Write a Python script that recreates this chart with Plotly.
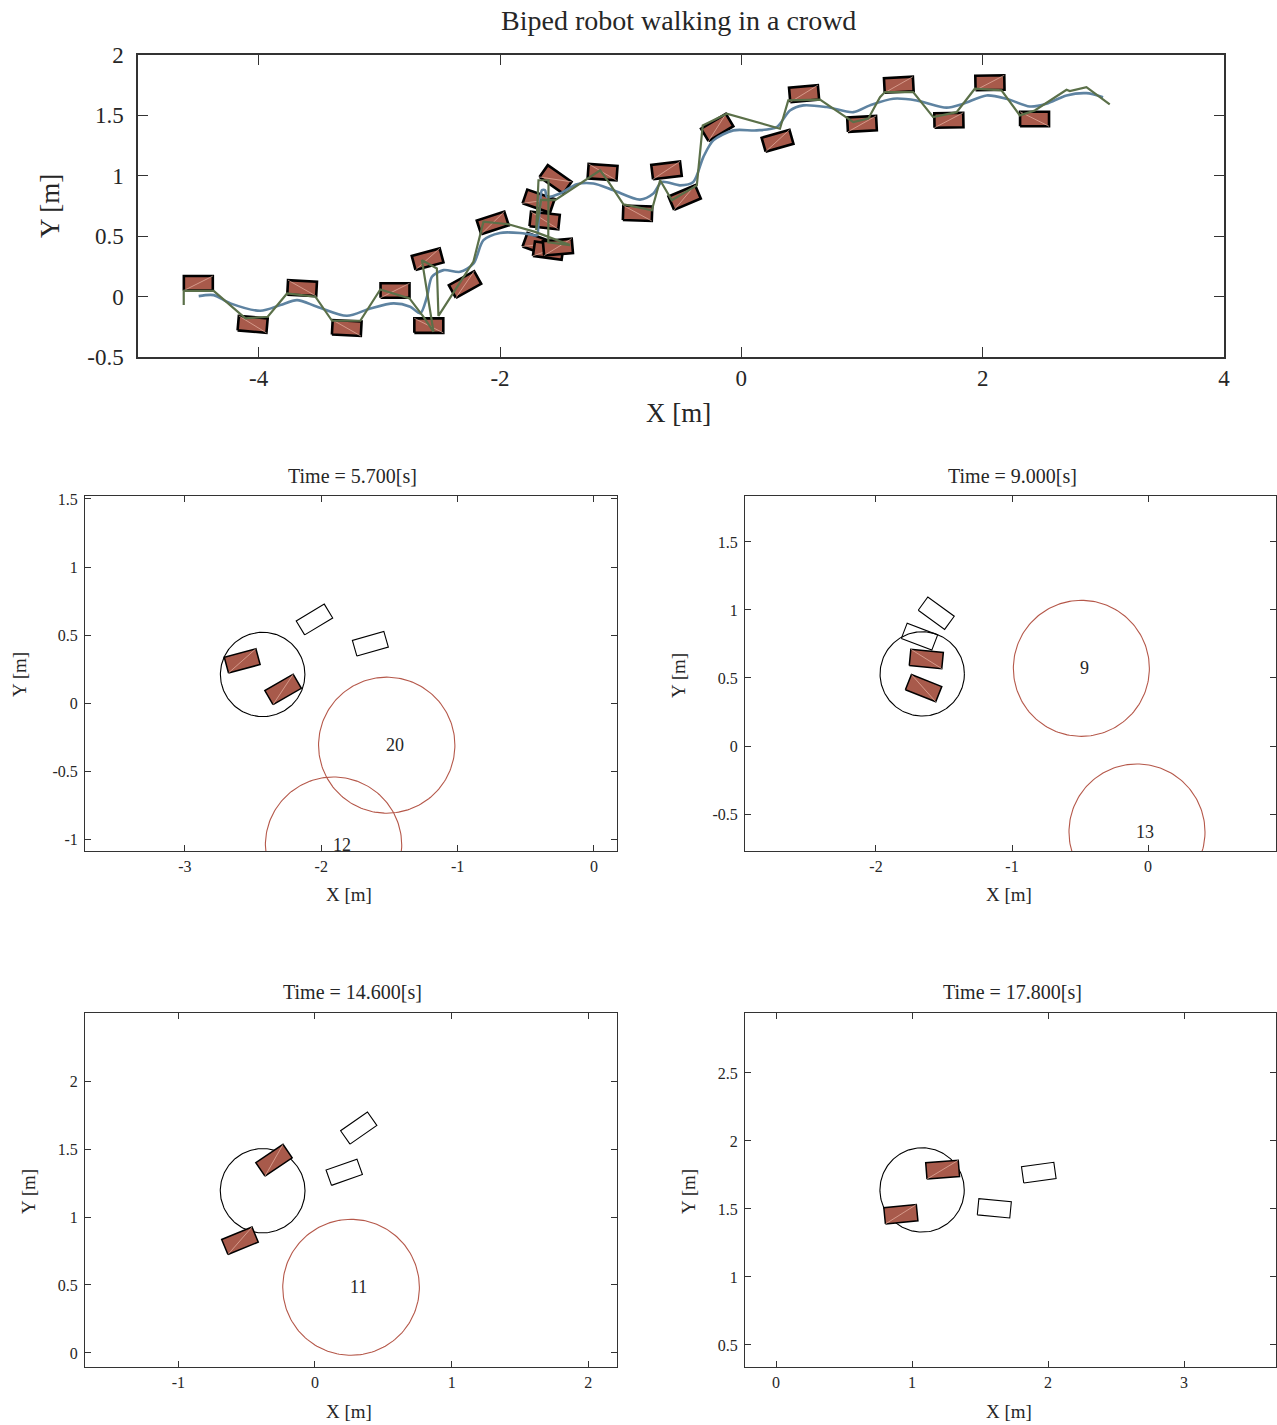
import numpy as np
import plotly.graph_objects as go

W, H = 1277, 1425
FONT = "Liberation Serif"
TXT = "#262626"
FOOT_FILL = "#A85A4B"
FOOT_DIAG = "rgba(240,190,175,0.8)"
AGENT_COL = "#B5584A"
COM_COL = "#5E83A1"
ZMP_COL = "#5B7049"

# footprint size [m]
FOOT_L, FOOT_W = 0.24, 0.12
ROBOT_R = 0.31
AGENT_R = 0.5

# ---------------- overview: footsteps (x, y, heading deg, diagonal flag) ----------------
step_x = [-4.50, -4.05, -3.64, -3.27, -2.87, -2.59, -2.60, -2.29, -2.06,
          -1.68, -1.60, -1.52, -1.63, -1.68, -1.54,
          -1.15, -0.86, -0.62, -0.47, -0.20, 0.30, 0.52, 1.00, 1.305, 1.72, 2.06, 2.43]
step_y = [0.11, -0.23, 0.07, -0.26, 0.05, -0.24, 0.31, 0.10, 0.61,
          0.43, 0.38, 0.41, 0.63, 0.79, 0.97,
          1.03, 0.69, 1.045, 0.82, 1.40, 1.29, 1.68, 1.43, 1.754, 1.46, 1.77, 1.47]
step_theta = [0, -5, -3, -3, 0, 0, 15, 29, 18,
              -20, -8, 5, -6, -19, -35,
              -4, -2, 7, 23, 31, 16, 5, 3, 3, 1, 1, 0]
step_diag = [1, -1, -1, -1, 1, -1, 1, 1, 1,
             1, 1, 1, -1, 1, 1,
             -1, -1, 1, 1, 1, 1, 1, 1, 1, 1, 1, -1]

# centre-of-mass trajectory
com_x = [-4.497, -4.373, -4.234, -3.986, -3.820, -3.682, -3.516, -3.268, -3.075, -2.882,
         -2.744, -2.661, -2.605, -2.564, -2.468, -2.330, -2.219, -2.137, -2.0, -1.835,
         -1.750, -1.694, -1.681, -1.667, -1.653, -1.626, -1.612, -1.502, -1.363, -1.226,
         -1.060, -0.839, -0.729, -0.659, -0.508, -0.398, -0.315, -0.232, -0.066, 0.127,
         0.293, 0.403, 0.514, 0.707, 0.928, 1.065, 1.259, 1.452, 1.701, 1.839,
         2.032, 2.198, 2.391, 2.529, 2.695, 2.860, 2.998]
com_y = [0.004, 0.012, -0.056, -0.117, -0.070, -0.029, -0.084, -0.159, -0.098, -0.056,
         -0.084, -0.139, -0.001, 0.164, 0.219, 0.205, 0.274, 0.467, 0.527, 0.527,
         0.515, 0.508, 0.618, 0.770, 0.880, 0.880, 0.825, 0.853, 0.930, 0.936,
         0.880, 0.803, 0.853, 0.949, 0.921, 0.949, 1.155, 1.293, 1.376, 1.376,
         1.403, 1.541, 1.583, 1.569, 1.527, 1.583, 1.638, 1.624, 1.564, 1.597,
         1.665, 1.638, 1.574, 1.597, 1.665, 1.684, 1.651]

# foot / ZMP reference path
zmp_x = [-4.621, -4.621, -4.373, -4.110, -3.925, -3.765, -3.530, -3.392, -3.158, -2.992,
         -2.750, -2.634, -2.551, -2.647, -2.523, -2.510, -2.220, -2.137, -1.930, -1.709,
         -1.419, -1.600, -1.598, -1.681, -1.700, -1.660, -1.543, -1.170, -1.101, -0.977,
         -0.742, -0.673, -0.576, -0.369, -0.320, -0.121, 0.320, 0.389, 0.652, 0.928,
         1.052, 1.149, 1.190, 1.424, 1.590, 1.784, 1.935, 2.156, 2.308, 2.432,
         2.695, 2.722, 2.860, 3.053]
zmp_y = [-0.070, 0.048, 0.048, -0.180, -0.167, 0.026, -0.001, -0.200, -0.200, 0.059,
         -0.015, -0.167, -0.291, 0.302, 0.233, -0.160, 0.290, 0.620, 0.599, 0.536,
         0.426, 0.450, 0.963, 0.963, 0.550, 0.800, 0.798, 1.045, 0.949, 0.764,
         0.715, 0.963, 0.798, 0.921, 1.417, 1.514, 1.390, 1.624, 1.630, 1.445,
         1.473, 1.651, 1.693, 1.693, 1.486, 1.527, 1.721, 1.707, 1.500, 1.541,
         1.712, 1.701, 1.734, 1.591]

# ---------------- snapshots ----------------
snap_titles = ["Time = 5.700[s]", "Time = 9.000[s]", "Time = 14.600[s]", "Time = 17.800[s]"]
robot_x = [-2.43, -1.66, -0.383, 1.074]
robot_y = [0.21, 0.53, 1.193, 1.64]

# current support footsteps (filled): x, y, heading, diagonal flag
cur_x = [[-2.58, -2.28], [-1.63, -1.65], [-0.30, -0.549], [1.225, 0.918]]
cur_y = [[0.31, 0.10], [0.64, 0.425], [1.417, 0.825], [1.789, 1.461]]
cur_theta = [[15, 30], [-5.5, -21.7], [34, 22.4], [4.5, 5.6]]
cur_diag = [[1, 1], [-1, -1], [1, 1], [1, 1]]

# planned footsteps (hollow)
plan_x = [[-2.05, -1.64], [-1.557, -1.68], [0.32, 0.214], [1.605, 1.932]]
plan_y = [[0.614, 0.436], [0.976, 0.804], [1.654, 1.329], [1.505, 1.767]]
plan_theta = [[31, 16], [-36, -21], [35, 19.5], [-5.5, 7.9]]

# pedestrians in the crowd
agent_id = [["20", "12"], ["9", "13"], ["11"], []]
agent_x = [[-1.52, -1.91], [-0.49, -0.081], [0.264], []]
agent_y = [[-0.31, -1.044], [0.571, -0.632], [0.483], []]

# axes ticks
top_xticks = [-4, -2, 0, 2, 4]
top_yticks = [-0.5, 0, 0.5, 1, 1.5, 2]
snap_xticks = [[-3, -2, -1, 0], [-2, -1, 0], [-1, 0, 1, 2], [0, 1, 2, 3]]
snap_yticks = [[-1, -0.5, 0, 0.5, 1, 1.5], [-0.5, 0, 0.5, 1, 1.5],
               [0, 0.5, 1, 1.5, 2], [0.5, 1, 1.5, 2, 2.5]]

# ---------------- layout geometry ----------------
top_xrange = [-5.0, 4.0]
top_yrange = [-0.5, 2.0]
snap_xrange = [[-3.733, 0.169], [-2.963, 0.941], [-1.683, 2.21], [-0.228, 3.676]]
snap_yrange = [[-1.088, 1.522], [-0.772, 1.838], [-0.103, 2.5], [0.338, 2.941]]


def fmt(v):
    return ("%g" % v)


def rect(cx, cy, th):
    t = np.deg2rad(th)
    lx = np.array([-1, 1, 1, -1, -1]) * FOOT_L / 2
    ly = np.array([-1, -1, 1, 1, -1]) * FOOT_W / 2
    xs = cx + lx * np.cos(t) - ly * np.sin(t)
    ys = cy + lx * np.sin(t) + ly * np.cos(t)
    return xs, ys


def diag(cx, cy, th, flag):
    t = np.deg2rad(th)
    lx = np.array([-1, 1]) * FOOT_L / 2
    ly = np.array([-1, 1]) * FOOT_W / 2 * flag
    return cx + lx * np.cos(t) - ly * np.sin(t), cy + lx * np.sin(t) + ly * np.cos(t)


def circle(cx, cy, r):
    a = np.linspace(0, 2 * np.pi, 181)
    return cx + r * np.cos(a), cy + r * np.sin(a)


fig = go.Figure()


def add_foot(cx, cy, th, flag, xa, ya, filled, lw):
    xs, ys = rect(cx, cy, th)
    if filled:
        fig.add_trace(go.Scatter(x=xs, y=ys, mode="lines", fill="toself", fillcolor=FOOT_FILL,
                                 line=dict(color="black", width=lw), xaxis=xa, yaxis=ya,
                                 hoverinfo="skip", showlegend=False))
        dx, dy = diag(cx, cy, th, flag)
        fig.add_trace(go.Scatter(x=dx, y=dy, mode="lines", line=dict(color=FOOT_DIAG, width=0.8),
                                 xaxis=xa, yaxis=ya, hoverinfo="skip", showlegend=False))
    else:
        fig.add_trace(go.Scatter(x=xs, y=ys, mode="lines",
                                 line=dict(color="black", width=lw), xaxis=xa, yaxis=ya,
                                 hoverinfo="skip", showlegend=False))


# ---- overview ----
for i in range(len(step_x)):
    add_foot(step_x[i], step_y[i], step_theta[i], step_diag[i], "x", "y", True, 2.6)
fig.add_trace(go.Scatter(x=com_x, y=com_y, mode="lines",
                         line=dict(color=COM_COL, width=2.6, shape="spline", smoothing=0.8),
                         xaxis="x", yaxis="y", hoverinfo="skip", showlegend=False))
fig.add_trace(go.Scatter(x=zmp_x, y=zmp_y, mode="lines", line=dict(color=ZMP_COL, width=2.2),
                         xaxis="x", yaxis="y", hoverinfo="skip", showlegend=False))

# ---- snapshots ----
annotations = []
for k in range(4):
    xa, ya = "x%d" % (k + 2), "y%d" % (k + 2)
    for j in range(len(agent_x[k])):
        cx, cy = circle(agent_x[k][j], agent_y[k][j], AGENT_R)
        fig.add_trace(go.Scatter(x=cx, y=cy, mode="lines", line=dict(color=AGENT_COL, width=1.1),
                                 xaxis=xa, yaxis=ya, hoverinfo="skip", showlegend=False))
        annotations.append(dict(x=agent_x[k][j], y=agent_y[k][j], xref=xa, yref=ya, text=agent_id[k][j],
                                showarrow=False, xanchor="left", yanchor="middle", xshift=-3,
                                font=dict(family=FONT, size=18, color=TXT)))
    cx, cy = circle(robot_x[k], robot_y[k], ROBOT_R)
    fig.add_trace(go.Scatter(x=cx, y=cy, mode="lines", line=dict(color="black", width=1.1),
                             xaxis=xa, yaxis=ya, hoverinfo="skip", showlegend=False))
    for j in range(len(plan_x[k])):
        add_foot(plan_x[k][j], plan_y[k][j], plan_theta[k][j], 1, xa, ya, False, 1.1)
    for j in range(len(cur_x[k])):
        add_foot(cur_x[k][j], cur_y[k][j], cur_theta[k][j], cur_diag[k][j], xa, ya, True, 1.5)


# ---------------- axes ----------------
def axis(dom, rng, ticks, ticklen, lw, fs, standoff, anchor):
    return dict(domain=dom, range=rng, tickvals=ticks, ticktext=[fmt(t) for t in ticks],
                ticks="inside", ticklen=ticklen, tickwidth=1, tickcolor="#333333",
                showline=True, linecolor="#333333", linewidth=lw, mirror="ticks",
                showgrid=False, zeroline=False, anchor=anchor, fixedrange=True,
                automargin=False,
                tickfont=dict(family=FONT, size=fs, color=TXT), ticklabelstandoff=standoff)


layout = dict(template="none", width=W, height=H, margin=dict(l=0, r=0, t=0, b=0, pad=0, autoexpand=False),
              paper_bgcolor="white", plot_bgcolor="white", showlegend=False)

layout["xaxis"] = axis([138 / W, 1224 / W], top_xrange, top_xticks, 10, 1.5, 23, 0, "y")
layout["yaxis"] = axis([1 - 357 / H, 1 - 55 / H], top_yrange, top_yticks, 10, 1.5, 23, 8, "x")

col_dom = [[85 / W, 617 / W], [745 / W, 1276 / W]]
row_dom = [[1 - 851 / H, 1 - 496 / H], [1 - 1367 / H, 1 - 1013 / H]]
for k in range(4):
    r, c = k // 2, k % 2
    layout["xaxis%d" % (k + 2)] = axis(col_dom[c], snap_xrange[k], snap_xticks[k], 6, 1, 16, 1, "y%d" % (k + 2))
    layout["yaxis%d" % (k + 2)] = axis(row_dom[r], snap_yrange[k], snap_yticks[k], 6, 1, 16, 3, "x%d" % (k + 2))


def pa(text, px, py, size, angle=0):
    return dict(text=text, x=px / W, y=1 - py / H, xref="paper", yref="paper", showarrow=False,
                xanchor="center", yanchor="middle", textangle=angle,
                font=dict(family=FONT, size=size, color=TXT))


annotations.append(pa("Biped robot walking in a crowd", 679, 20, 28))
annotations.append(pa("X [m]", 678, 413, 27))
annotations.append(pa("Y [m]", 50, 206, 27, -90))
title_pos = [(352, 476), (1012, 476), (352, 992), (1012, 992)]
xlab_pos = [(349, 895), (1009, 895), (349, 1411), (1009, 1411)]
ylab_pos = [(20, 675), (679, 675), (28, 1192), (688, 1192)]
for k in range(4):
    annotations.append(pa(snap_titles[k], title_pos[k][0], title_pos[k][1], 20))
    annotations.append(pa("X [m]", xlab_pos[k][0], xlab_pos[k][1], 19))
    annotations.append(pa("Y [m]", ylab_pos[k][0], ylab_pos[k][1], 19, -90))

layout["annotations"] = annotations
fig.update_layout(**layout)
fig.write_html("out.html")
